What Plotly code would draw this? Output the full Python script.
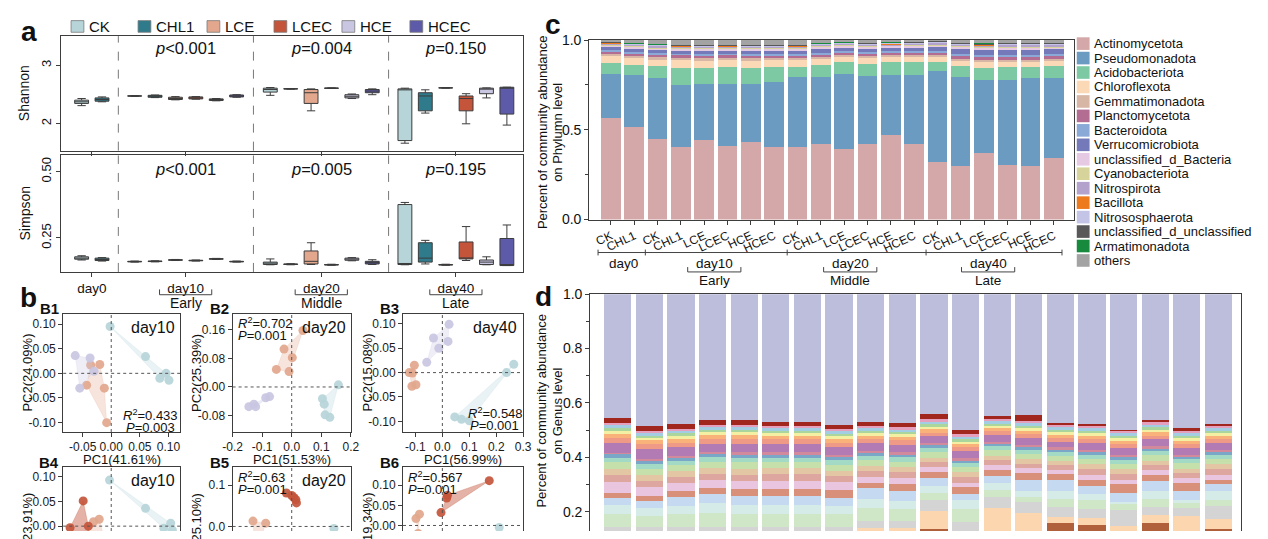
import plotly.graph_objects as go

W, H = 1268, 539
FONT = "Arial, Liberation Sans, sans-serif"

# ---------------- panel a : alpha diversity ----------------
TREATMENTS = ["CK", "CHL1", "LCE", "LCEC", "HCE", "HCEC"]
TREAT_COLORS = ["#b7d5d9", "#2f7b8c", "#e2a78d", "#c4553b", "#c9c6e2", "#5c5aa9"]
DAYS = ["day0", "day10", "day20", "day40"]
STAGES = ["Early", "Middle", "Late"]

# (lower whisker, q1, median, q3, upper whisker) per sampling day
SHANNON_CK = [(2.306, 2.344, 2.372, 2.400, 2.428), (2.466, 2.469, 2.472, 2.475, 2.478),
              (2.483, 2.539, 2.583, 2.606, 2.617), (1.661, 1.706, 2.583, 2.594, 2.606)]
SHANNON_CHL1 = [(2.372, 2.383, 2.411, 2.439, 2.456), (2.444, 2.450, 2.467, 2.483, 2.489),
                (2.590, 2.592, 2.594, 2.597, 2.599), (2.178, 2.217, 2.472, 2.528, 2.578)]
SHANNON_LCE = [(2.406, 2.411, 2.428, 2.450, 2.461), (2.217, 2.344, 2.528, 2.583, 2.594),
               (2.607, 2.609, 2.611, 2.613, 2.615)]
SHANNON_LCEC = [(2.417, 2.422, 2.439, 2.456, 2.461), (2.601, 2.603, 2.606, 2.609, 2.611),
                (1.994, 2.217, 2.428, 2.472, 2.511)]
SHANNON_HCE = [(2.389, 2.394, 2.411, 2.422, 2.428), (2.428, 2.439, 2.467, 2.494, 2.506),
               (2.439, 2.511, 2.594, 2.606, 2.611)]
SHANNON_HCEC = [(2.450, 2.456, 2.472, 2.489, 2.494), (2.494, 2.528, 2.556, 2.583, 2.594),
                (1.972, 2.161, 2.617, 2.622, 2.622)]

SIMPSON_CK = [(0.167, 0.170, 0.174, 0.179, 0.183), (0.159, 0.160, 0.161, 0.162, 0.163),
              (0.149, 0.150, 0.155, 0.159, 0.171), (0.149, 0.150, 0.150, 0.376, 0.384)]
SIMPSON_CHL1 = [(0.163, 0.165, 0.169, 0.174, 0.176), (0.160, 0.161, 0.162, 0.163, 0.164),
                (0.149, 0.150, 0.151, 0.152, 0.153), (0.152, 0.159, 0.174, 0.232, 0.241)]
SIMPSON_LCE = [(0.165, 0.166, 0.167, 0.168, 0.169), (0.150, 0.152, 0.162, 0.201, 0.232),
               (0.147, 0.148, 0.149, 0.150, 0.151)]
SIMPSON_LCEC = [(0.163, 0.164, 0.165, 0.166, 0.167), (0.147, 0.148, 0.149, 0.150, 0.151),
                (0.165, 0.171, 0.174, 0.235, 0.293)]
SIMPSON_HCE = [(0.169, 0.170, 0.171, 0.172, 0.173), (0.164, 0.166, 0.171, 0.174, 0.176),
               (0.149, 0.150, 0.159, 0.167, 0.179)]
SIMPSON_HCEC = [(0.159, 0.160, 0.161, 0.162, 0.163), (0.150, 0.152, 0.157, 0.162, 0.168),
                (0.146, 0.146, 0.149, 0.248, 0.299)]

SHANNON_P = ["<i>p</i>&lt;0.001", "<i>p</i>=0.004", "<i>p</i>=0.150"]
SIMPSON_P = ["<i>p</i>&lt;0.001", "<i>p</i>=0.005", "<i>p</i>=0.195"]

# ---------------- panel b : PCoA ----------------
B1 = {"CK": ([-0.002, 0.060, 0.085, 0.096, 0.101], [0.095, 0.034, -0.010, 0.000, -0.014]),
      "LCE": ([-0.036, -0.020, -0.043, -0.012, -0.008], [0.017, 0.018, -0.024, -0.030, -0.100]),
      "HCE": ([-0.063, -0.037, -0.030, -0.055], [0.036, 0.031, 0.004, -0.030])}
B2 = {"LCE": ([0.038, -0.026, 0.002, -0.052, -0.009], [0.158, 0.106, 0.082, 0.049, 0.043]),
      "HCE": ([-0.145, -0.128, -0.122, -0.088, -0.075], [-0.055, -0.048, -0.055, -0.030, -0.027]),
      "CK": ([0.158, 0.104, 0.110, 0.113, 0.129], [0.006, -0.033, -0.048, -0.078, -0.085])}
B3 = {"HCE": ([0.025, 0.021, -0.033, -0.013, -0.058], [0.099, 0.064, 0.071, 0.050, 0.021]),
      "LCE": ([-0.104, -0.123, -0.111, -0.113, -0.098], [0.015, 0.000, -0.001, -0.028, -0.025]),
      "CK": ([0.265, 0.238, 0.046, 0.071, 0.100], [0.017, 0.000, -0.091, -0.096, -0.099])}
B4 = {"CK": ([-0.003, 0.060, 0.092, 0.104, 0.107], [0.093, 0.036, -0.004, 0.006, -0.008]),
      "LCE": ([-0.021, -0.031, -0.050, -0.010], [0.014, 0.009, -0.025, -0.035]),
      "LCEC": ([-0.049, -0.072, -0.040, -0.055, -0.035], [0.051, -0.003, 0.000, -0.045, -0.060])}
B5 = {"LCE": ([-0.131, -0.088, -0.105, -0.125], [0.013, 0.008, -0.030, -0.050]),
      "LCEC": ([-0.018, 0.000, 0.007, 0.014, 0.016], [0.081, 0.075, 0.070, 0.065, 0.057]),
      "CK": ([0.143, 0.120, 0.130], [-0.005, -0.040, -0.060])}
B6 = {"LCE": ([-0.098, -0.085, -0.090], [0.017, 0.028, -0.020]),
      "LCEC": ([0.174, 0.019, 0.016, -0.005], [0.111, 0.075, 0.068, 0.032]),
      "CK": ([0.211, 0.220], [-0.005, -0.050])}

# ---------------- panel c : phylum composition ----------------
X_LABELS = ["CK", "CHL1"] + ["CK", "CHL1", "LCE", "LCEC", "HCE", "HCEC"] * 3
PHYLA = ["Actinomycetota", "Pseudomonadota", "Acidobacteriota", "Chloroflexota",
         "Gemmatimonadota", "Planctomycetota", "Bacteroidota", "Verrucomicrobiota",
         "unclassified_d_Bacteria", "Cyanobacteriota", "Nitrospirota", "Bacillota",
         "Nitrososphaerota", "unclassified_d_unclassified", "Armatimonadota", "others"]
PHYLA_COLORS = ["#d4a8a8", "#6b9bc0", "#7dc9a3", "#fbd9b6", "#d8b6a6", "#b46d92",
                "#8aa9d6", "#7479b9", "#e6c9e3", "#d6d49a", "#b3a3cc", "#ee7a1e",
                "#c3c4e6", "#585858", "#188a3e", "#a3a3a3"]
ACTINO = [0.563, 0.513, 0.446, 0.405, 0.441, 0.411, 0.432, 0.405, 0.405, 0.423,
          0.393, 0.418, 0.471, 0.418, 0.321, 0.298, 0.370, 0.304, 0.298, 0.343]
PSEUDO = [0.249, 0.292, 0.340, 0.345, 0.313, 0.343, 0.322, 0.361, 0.388, 0.370,
          0.418, 0.384, 0.333, 0.386, 0.509, 0.497, 0.405, 0.476, 0.488, 0.446]
ACIDO = [0.059, 0.057, 0.071, 0.096, 0.092, 0.098, 0.092, 0.086, 0.059, 0.068,
         0.064, 0.064, 0.071, 0.071, 0.045, 0.060, 0.071, 0.072, 0.066, 0.066]
CHLORO = [0.039, 0.036, 0.034, 0.040, 0.038, 0.036, 0.038, 0.035, 0.035, 0.034,
          0.030, 0.032, 0.030, 0.031, 0.028, 0.026, 0.030, 0.026, 0.026, 0.026]
GEMMA = [0.014, 0.014, 0.013, 0.014, 0.014, 0.013, 0.014, 0.013, 0.013, 0.012,
         0.012, 0.012, 0.012, 0.012, 0.012, 0.014, 0.014, 0.013, 0.013, 0.013]
PLANCTO = [0.012, 0.012, 0.013, 0.014, 0.014, 0.013, 0.014, 0.013, 0.012, 0.012,
           0.012, 0.012, 0.011, 0.012, 0.014, 0.016, 0.015, 0.016, 0.016, 0.015]
BACTERO = [0.009, 0.010, 0.010, 0.010, 0.010, 0.010, 0.010, 0.010, 0.010, 0.010,
           0.009, 0.009, 0.009, 0.009, 0.010, 0.012, 0.012, 0.012, 0.012, 0.012]
VERRUCO = [0.014, 0.016, 0.016, 0.017, 0.017, 0.016, 0.017, 0.016, 0.018, 0.020,
           0.018, 0.019, 0.018, 0.018, 0.020, 0.026, 0.028, 0.028, 0.028, 0.027]
UNCL_BACT = [0.009, 0.009, 0.009, 0.009, 0.009, 0.009, 0.009, 0.009, 0.010, 0.010,
             0.009, 0.010, 0.009, 0.009, 0.010, 0.010, 0.010, 0.010, 0.010, 0.010]
CYANO = [0.005, 0.005, 0.005, 0.005, 0.005, 0.005, 0.005, 0.005, 0.006, 0.005,
         0.005, 0.005, 0.005, 0.005, 0.006, 0.005, 0.005, 0.005, 0.005, 0.005]
NITROSPI = [0.006, 0.006, 0.007, 0.008, 0.008, 0.008, 0.008, 0.008, 0.007, 0.006,
            0.006, 0.006, 0.006, 0.006, 0.007, 0.008, 0.008, 0.008, 0.008, 0.008]
BACILL = [0.002] * 14 + [0.003] * 6
NITROSO = [0.004] * 20
UNCL_UNCL = [0.004] * 20
ARMATI = [0.002] * 20

# ---------------- panel d : genus composition (bottom -> top) ----------------
GENUS_COLORS = ["#d5d5d5", "#b0603b", "#fbd6ae", "#d4d4d4", "#cfe7c6", "#d4ebe7",
                "#c5daf0", "#d9907a", "#e9c5e0", "#dda69e", "#e3c6a4", "#c6e0ab",
                "#a3dac6", "#7aa6c7", "#d3899c", "#b27bb4", "#ef9a86", "#f8b27a",
                "#f4f0a3", "#aad69e", "#a3cde3", "#e5a0bd", "#a1261d", "#bdbddc"]
G_BASE = [0.100] * 20
G_BROWN = [0, 0, 0, 0, 0, 0, 0, 0, 0, 0, 0.037, 0, 0, 0, 0.059, 0.049, 0, 0.059, 0, 0.037]
G_PEACH = [0.005, 0.005, 0.005, 0.005, 0.005, 0.005, 0.005, 0.005, 0.040, 0.040,
           0.066, 0.020, 0.112, 0.094, 0.021, 0.027, 0.047, 0.029, 0.082, 0.035]
G_GRAY = [0.040, 0.040, 0.040, 0.040, 0.040, 0.040, 0.040, 0.040, 0.024, 0.025,
          0.038, 0.040, 0.041, 0.041, 0.037, 0.035, 0.059, 0.029, 0.030, 0.047]
G_PALEGREEN = [0.045, 0.040, 0.045, 0.050, 0.047, 0.047, 0.047, 0.045, 0.050, 0.045,
               0.028, 0.050, 0.028, 0.020, 0.030, 0.030, 0.021, 0.030, 0.020, 0.025]
G_PALECYAN = [0.033, 0.027, 0.030, 0.035, 0.033, 0.033, 0.033, 0.030, 0.033, 0.030,
              0.025, 0.032, 0.025, 0.021, 0.029, 0.023, 0.008, 0.029, 0.012, 0.030]
G_LIGHTBLUE = [0.027, 0.027, 0.033, 0.035, 0.034, 0.034, 0.034, 0.030, 0.039, 0.036,
               0.029, 0.023, 0.026, 0.042, 0.039, 0.030, 0.035, 0.038, 0.032, 0.026]
G_TERRA = [0.020, 0.020, 0.023, 0.023, 0.023, 0.023, 0.023, 0.029, 0.020, 0.026,
           0.022, 0.025, 0.021, 0.023, 0.023, 0.024, 0.030, 0.021, 0.030, 0.018]
G_LIGHTPINK = [0.039, 0.030, 0.028, 0.030, 0.030, 0.032, 0.032, 0.030, 0.022, 0.020,
               0.018, 0.016, 0.020, 0.018, 0.016, 0.018, 0.018, 0.018, 0.018, 0.018]
G_DUSTY = [0.026, 0.025, 0.024, 0.022, 0.024, 0.024, 0.024, 0.022, 0.020, 0.022,
           0.018, 0.020, 0.016, 0.018, 0.016, 0.020, 0.020, 0.018, 0.018, 0.020]
G_TAN = [0.023, 0.022, 0.022, 0.022, 0.022, 0.022, 0.022, 0.020, 0.020, 0.020,
         0.016, 0.018, 0.016, 0.016, 0.015, 0.018, 0.018, 0.016, 0.016, 0.018]
G_LIGHTGREEN = [0.024, 0.022, 0.022, 0.022, 0.024, 0.022, 0.022, 0.022, 0.022, 0.020,
                0.022, 0.020, 0.020, 0.020, 0.018, 0.020, 0.020, 0.020, 0.020, 0.020]
G_MINT = [0.017, 0.016, 0.016, 0.016, 0.016, 0.016, 0.016, 0.016, 0.015, 0.016,
          0.016, 0.014, 0.015, 0.015, 0.015, 0.016, 0.015, 0.015, 0.014, 0.015]
G_STEEL = [0.012, 0.012, 0.010, 0.012, 0.012, 0.012, 0.012, 0.012, 0.010, 0.010,
           0.010, 0.010, 0.010, 0.010, 0.010, 0.010, 0.010, 0.010, 0.010, 0.010]
G_ROSE = [0.006] + [0.008] * 19
G_MAUVE = [0.035, 0.035, 0.032, 0.030, 0.032, 0.030, 0.030, 0.028, 0.028, 0.028,
           0.024, 0.026, 0.024, 0.026, 0.022, 0.026, 0.026, 0.026, 0.024, 0.026]
G_SALMON = [0.018, 0.018, 0.016, 0.018, 0.018, 0.018, 0.018, 0.016, 0.016, 0.016,
            0.014, 0.014, 0.014, 0.014, 0.013, 0.014, 0.014, 0.014, 0.014, 0.014]
G_ORANGE = [0.015, 0.015, 0.014, 0.014, 0.014, 0.014, 0.014, 0.014, 0.012, 0.012,
            0.012, 0.012, 0.012, 0.012, 0.012, 0.012, 0.012, 0.012, 0.012, 0.012]
G_YELLOW = [0.012, 0.010, 0.010, 0.010, 0.010, 0.010, 0.010, 0.010, 0.010, 0.010,
            0.010, 0.010, 0.008, 0.010, 0.009, 0.010, 0.010, 0.010, 0.010, 0.010]
G_GREEN = [0.009, 0.008, 0.010] + [0.008] * 17
G_TEAL = [0.011, 0.010, 0.009, 0.010, 0.010, 0.010, 0.010, 0.010, 0.010, 0.010,
          0.010, 0.010, 0.008, 0.010, 0.010, 0.010, 0.010, 0.010, 0.010, 0.010]
G_PINK = [0.010, 0.008, 0.008, 0.008, 0.008, 0.008, 0.008, 0.008, 0.008, 0.008,
          0.010, 0.008, 0.010, 0.008, 0.008, 0.008, 0.008, 0.010, 0.008, 0.008]
G_DARKRED = [0.016, 0.017, 0.019, 0.018, 0.018, 0.014, 0.014, 0.014, 0.016, 0.016,
             0.018, 0.018, 0.010, 0.020, 0.008, 0.006, 0.005, 0.008, 0.010, 0.007]


def dx(x0, x1):
    return [x0 / W, x1 / W]


def dy(y0, y1):
    return [1 - y1 / H, 1 - y0 / H]


def ann(x, y, text, size=13, xanchor="center", yanchor="middle", angle=0, bold=False):
    return dict(x=x / W, y=1 - y / H, xref="paper", yref="paper", showarrow=False,
                text=f"<b>{text}</b>" if bold else text, xanchor=xanchor, yanchor=yanchor,
                textangle=angle, font=dict(size=size, family=FONT, color="#111"))


def pline(x0, y0, x1, y1, width=1, color="#444"):
    return dict(type="line", xref="paper", yref="paper", x0=x0 / W, x1=x1 / W,
                y0=1 - y0 / H, y1=1 - y1 / H, line=dict(color=color, width=width))


def rgba(hexc, a):
    h = hexc.lstrip("#")
    return f"rgba({int(h[0:2], 16)},{int(h[2:4], 16)},{int(h[4:6], 16)},{a})"


def hull(xs, ys):
    pts = sorted(set(zip(xs, ys)))
    if len(pts) < 3:
        return pts

    def cross(o, a, b):
        return (a[0] - o[0]) * (b[1] - o[1]) - (a[1] - o[1]) * (b[0] - o[0])

    lower, upper = [], []
    for p in pts:
        while len(lower) >= 2 and cross(lower[-2], lower[-1], p) <= 0:
            lower.pop()
        lower.append(p)
    for p in reversed(pts):
        while len(upper) >= 2 and cross(upper[-2], upper[-1], p) <= 0:
            upper.pop()
        upper.append(p)
    return lower[:-1] + upper[:-1]


def axis(**kw):
    base = dict(showline=True, linecolor="#3d3d3d", linewidth=1, mirror=True, showgrid=False,
                zeroline=False, ticks="outside", ticklen=4, tickwidth=1, tickcolor="#3d3d3d",
                tickfont=dict(size=12, family=FONT, color="#1a1a1a"))
    base.update(kw)
    return base


fig = go.Figure()
layout = {}
shapes = []
annotations = []
COLOR_OF = dict(zip(TREATMENTS, TREAT_COLORS))

# ---------- panel a ----------
GROUP_START = [1.0, 3.6, 10.25, 16.85]
day_centers = [GROUP_START[0] + 0.5] + [s + 2.5 for s in GROUP_START[1:]]
shannon = dict(zip(TREATMENTS, [SHANNON_CK, SHANNON_CHL1, SHANNON_LCE, SHANNON_LCEC, SHANNON_HCE, SHANNON_HCEC]))
simpson = dict(zip(TREATMENTS, [SIMPSON_CK, SIMPSON_CHL1, SIMPSON_LCE, SIMPSON_LCEC, SIMPSON_HCE, SIMPSON_HCEC]))

for k, t in enumerate(TREATMENTS):
    for stats, xa, ya in [(shannon[t], "x", "y"), (simpson[t], "x2", "y2")]:
        days = range(4) if len(stats) == 4 else range(1, 4)
        xs = [GROUP_START[d] + k for d in days]
        fig.add_trace(go.Box(
            x=xs, lowerfence=[s[0] for s in stats], q1=[s[1] for s in stats],
            median=[s[2] for s in stats], q3=[s[3] for s in stats],
            upperfence=[s[4] for s in stats], fillcolor=COLOR_OF[t],
            line=dict(color="#3c3c3c", width=1), width=0.68, whiskerwidth=0.6,
            boxpoints=False, xaxis=xa, yaxis=ya, showlegend=False, hoverinfo="skip"))

layout["xaxis"] = axis(domain=dx(52, 521), range=[0, 22.65], anchor="y",
                       tickvals=day_centers, showticklabels=False)
layout["yaxis"] = axis(domain=dy(29, 147), range=[1.533, 3.5], anchor="x", tickvals=[2, 3],
                       ticktext=["2", "3"], tickangle=-90, tickfont=dict(size=13, family=FONT))
layout["xaxis2"] = axis(domain=dx(52, 521), range=[0, 22.65], anchor="y2", tickvals=day_centers,
                        ticktext=DAYS, tickfont=dict(size=13.5, family=FONT, color="#111"))
layout["yaxis2"] = axis(domain=dy(152, 272), range=[0.122, 0.561], anchor="x2",
                        tickvals=[0.25, 0.5], ticktext=["0.25", "0.50"], tickangle=-90,
                        tickfont=dict(size=13, family=FONT))

for i in range(3):
    sep = (GROUP_START[i] + (1 if i == 0 else 5) + GROUP_START[i + 1]) / 2
    for ya in ["y", "y2"]:
        shapes.append(dict(type="line", xref="x", yref=f"{ya} domain", x0=sep, x1=sep, y0=0, y1=1,
                           line=dict(color="#555", width=0.8, dash="dash")))
    cx = 52 + day_centers[i + 1] * (521 - 52) / 22.65
    annotations.append(ann(cx, 41, SHANNON_P[i], 16.5))
    annotations.append(ann(cx, 166, SIMPSON_P[i], 16.5))
    shapes += [pline(cx - 26.5, 295.5, cx + 26.5, 295.5), pline(cx - 26.5, 295.5, cx - 26.5, 290),
               pline(cx + 26.5, 295.5, cx + 26.5, 290)]
    annotations.append(ann(cx, 304, STAGES[i], 14))

annotations.append(ann(15, 88, "Shannon", 14, angle=-90))
annotations.append(ann(15, 212, "Simpson", 14, angle=-90))
annotations.append(ann(19, 24, "a", 28, bold=True))

legend_x = [62, 130, 200, 268, 337, 406]
for t, c, lx in zip(TREATMENTS, TREAT_COLORS, legend_x):
    shapes.append(dict(type="rect", xref="paper", yref="paper", x0=lx / W, x1=(lx + 13) / W,
                       y0=1 - 25 / H, y1=1 - 13 / H, fillcolor=c, line=dict(color="#7a7a7a", width=0.8)))
    annotations.append(ann(lx + 16, 19, t, 15, xanchor="left"))

# ---------- panel b ----------
annotations.append(ann(19, 298, "b", 28, bold=True))
B_PANELS = [
    # number, data, x px, y px, x range, x ticks, x text, y range, y ticks, y text, label, pc1, pc2
    (3, B1, (54, 173), (315, 437), [-0.084, 0.121], [-0.05, 0, 0.05, 0.1], ["-0.05", "0.00", "0.05", "0.10"],
     [-0.119, 0.121], [-0.1, -0.05, 0, 0.05, 0.1], ["-0.10", "-0.05", "0.00", "0.05", "0.10"],
     "B1", "PC1(41.61%)", "PC2(24.09%)"),
    (4, B2, (226, 346), (315, 437), [-0.2, 0.2], [-0.2, -0.1, 0, 0.1, 0.2], ["-0.2", "-0.1", "0.0", "0.1", "0.2"],
     [-0.126, 0.205], [-0.08, 0, 0.08, 0.16], ["-0.08", "0.00", "0.08", "0.16"],
     "B2", "PC1(51.53%)", "PC2(25.39%)"),
    (5, B3, (399, 521), (315, 437), [-0.146, 0.3], [-0.1, 0, 0.1, 0.2, 0.3], ["-0.1", "0.0", "0.1", "0.2", "0.3"],
     [-0.122, 0.121], [-0.1, -0.05, 0, 0.05, 0.1], ["-0.10", "-0.05", "0.00", "0.05", "0.10"],
     "B3", "PC1(56.99%)", "PC2(15.08%)"),
    (6, B4, (54, 173), (473, 539), [-0.084, 0.121], [], [],
     [-0.0098, 0.1196], [0, 0.05, 0.1], ["0.00", "0.05", "0.10"], "B4", None, "PC2(23.91%)"),
    (7, B5, (226, 346), (473, 539), [-0.2, 0.2], [], [],
     [-0.011, 0.144], [0, 0.1], ["0.0", "0.1"], "B5", None, "PC2(25.10%)"),
    (8, B6, (399, 521), (473, 539), [-0.146, 0.3], [], [],
     [-0.0137, 0.145], [0, 0.05, 0.1], ["0.00", "0.05", "0.10"], "B6", None, "PC2(19.34%)"),
]
for n, data, xp, yp, xr, xt, xtt, yr, yt, ytt, lab, pc1, pc2 in B_PANELS:
    top_row = pc1 is not None
    if top_row:
        layout[f"xaxis{n}"] = axis(domain=dx(*xp), range=xr, anchor=f"y{n}", tickvals=xt, ticktext=xtt)
    else:
        layout[f"xaxis{n}"] = axis(domain=dx(*xp), range=xr, anchor=f"y{n}", side="top", mirror=False,
                                   ticks="", showticklabels=False)
    layout[f"yaxis{n}"] = axis(domain=dy(*yp), range=yr, anchor=f"x{n}", tickvals=yt, ticktext=ytt)
    shapes.append(dict(type="line", xref=f"x{n}", yref=f"y{n} domain", x0=0, x1=0, y0=0, y1=1,
                       line=dict(color="#555", width=1, dash="dot")))
    shapes.append(dict(type="line", xref=f"x{n} domain", yref=f"y{n}", x0=0, x1=1, y0=0, y1=0,
                       line=dict(color="#555", width=1, dash="dot")))
    for t, (xs, ys) in data.items():
        c = COLOR_OF[t]
        pts = hull(xs, ys)
        hx = [p[0] for p in pts] + [pts[0][0]]
        hy = [p[1] for p in pts] + [pts[0][1]]
        alpha = 0.45 if t == "LCEC" else 0.3
        fig.add_trace(go.Scatter(x=hx, y=hy, mode="lines", fill="toself", fillcolor=rgba(c, alpha),
                                 line=dict(width=0.6, color=rgba(c, alpha)), xaxis=f"x{n}", yaxis=f"y{n}",
                                 showlegend=False, hoverinfo="skip"))
        fig.add_trace(go.Scatter(x=xs, y=ys, mode="markers", marker=dict(size=9, color=c, opacity=0.92),
                                 xaxis=f"x{n}", yaxis=f"y{n}", showlegend=False, hoverinfo="skip"))
    annotations.append(ann(xp[0] - 2, yp[0] - 5, lab, 15, xanchor="right", bold=True))
    if top_row:
        annotations.append(ann((xp[0] + xp[1]) / 2, 465, pc1, 13))
        annotations.append(ann(xp[0] - 36, (yp[0] + yp[1]) / 2, pc2, 13, angle=-90))
    else:
        annotations.append(ann(xp[0] - 36, 540, pc2, 13, angle=-90))

annotations += [
    ann(170, 329, "day10", 16, xanchor="right"), ann(343, 329, "day20", 16, xanchor="right"),
    ann(517, 329, "day40", 16, xanchor="right"), ann(170, 487, "day10", 16, xanchor="right"),
    ann(343, 487, "day20", 16, xanchor="right"),
    ann(173, 419, "<i>R</i><sup>2</sup>=0.433", 13, xanchor="right"),
    ann(170, 432, "<i>P</i>=0.003", 13, xanchor="right"),
    ann(229, 325, "<i>R</i><sup>2</sup>=0.702", 13, xanchor="left"),
    ann(229, 338, "<i>P</i>=0.001", 13, xanchor="left"),
    ann(523, 417, "<i>R</i><sup>2</sup>=0.548", 13, xanchor="right"),
    ann(519, 430, "<i>P</i>=0.001", 13, xanchor="right"),
    ann(229, 483, "<i>R</i><sup>2</sup>=0.63", 13, xanchor="left"),
    ann(229, 496, "<i>P</i>=0.001", 13, xanchor="left"),
    ann(402, 483, "<i>R</i><sup>2</sup>=0.567", 13, xanchor="left"),
    ann(402, 496, "<i>P</i>=0.001", 13, xanchor="left"),
]

# ---------- panel c ----------
minor = [CHLORO, GEMMA, PLANCTO, BACTERO, VERRUCO, UNCL_BACT, CYANO, NITROSPI,
         BACILL, NITROSO, UNCL_UNCL, ARMATI]
phylum_series = [ACTINO, PSEUDO, ACIDO] + minor
others = [round(1 - sum(s[i] for s in phylum_series), 3) for i in range(20)]
phylum_series.append(others)
xs = list(range(20))
for name, vals, c in zip(PHYLA, phylum_series, PHYLA_COLORS):
    fig.add_trace(go.Bar(x=xs, y=vals, name=name, marker=dict(color=c, line=dict(width=0)), width=0.84,
                         xaxis="x9", yaxis="y9", showlegend=False, hoverinfo="skip"))
layout["xaxis9"] = axis(domain=dx(588, 1080), range=[-0.93, 19.85], anchor="y9", tickvals=xs,
                        ticktext=X_LABELS, tickangle=-25, tickfont=dict(size=12, family=FONT, color="#111"))
layout["yaxis9"] = axis(domain=dy(33, 218), range=[0, 1], anchor="x9", tickvals=[0, 0.5, 1],
                        ticktext=["0.0", "0.5", "1.0"], tickfont=dict(size=14, family=FONT, color="#111"),
                        minor=dict(tickvals=[0.25, 0.75], ticks="outside", ticklen=3, tickcolor="#3d3d3d"))
annotations += [ann(551, 17, "c", 28, bold=True),
                ann(540, 128, "Percent of community abundance", 13, angle=-90),
                ann(556, 128, "on Phylumn level", 13, angle=-90)]
# sampling-day grouping under the x axis
shapes.append(pline(597, 252, 1068, 252))
for gx in [597, 645, 789, 930, 1068]:
    shapes.append(pline(gx, 249, gx, 255))
for lab, gx in zip(DAYS, [623, 715, 853, 993]):
    annotations.append(ann(gx, 263, lab, 13.5))
for lab, gx in zip(STAGES, [715, 853, 993]):
    shapes += [pline(gx - 27, 272, gx + 27, 272), pline(gx - 27, 272, gx - 27, 267),
               pline(gx + 27, 272, gx + 27, 267)]
    annotations.append(ann(gx, 281, lab, 13.5))
for k, (name, c) in enumerate(zip(PHYLA, PHYLA_COLORS)):
    yc = 36.7 + 14.9 * k
    shapes.append(dict(type="rect", xref="paper", yref="paper", x0=1083 / W, x1=1096 / W,
                       y0=1 - (yc + 6.5) / H, y1=1 - (yc - 6.5) / H, fillcolor=c, line=dict(width=0)))
    annotations.append(ann(1098, yc, name, 13, xanchor="left"))

# ---------- panel d ----------
genus_series = [G_BASE, G_BROWN, G_PEACH, G_GRAY, G_PALEGREEN, G_PALECYAN, G_LIGHTBLUE, G_TERRA,
                G_LIGHTPINK, G_DUSTY, G_TAN, G_LIGHTGREEN, G_MINT, G_STEEL, G_ROSE, G_MAUVE,
                G_SALMON, G_ORANGE, G_YELLOW, G_GREEN, G_TEAL, G_PINK, G_DARKRED]
g_others = [round(1 - sum(s[i] for s in genus_series), 3) for i in range(20)]
genus_series.append(g_others)
for vals, c in zip(genus_series, GENUS_COLORS):
    fig.add_trace(go.Bar(x=xs, y=vals, marker=dict(color=c, line=dict(width=0)), width=0.86,
                         xaxis="x10", yaxis="y10", showlegend=False, hoverinfo="skip"))
layout["xaxis10"] = axis(domain=dx(589, 1250), range=[-0.87, 19.72], anchor="y10", side="top",
                         mirror=False, ticks="", showticklabels=False)
layout["yaxis10"] = axis(domain=dy(295, 539), range=[0.1286, 1.0], anchor="x10",
                         tickvals=[0.2, 0.4, 0.6, 0.8, 1.0], ticktext=["0.2", "0.4", "0.6", "0.8", "1.0"],
                         tickfont=dict(size=14, family=FONT, color="#111"),
                         minor=dict(tickvals=[0.3, 0.5, 0.7, 0.9], ticks="outside", ticklen=3,
                                    tickcolor="#3d3d3d"))
annotations += [ann(542, 297, "d", 28, bold=True),
                ann(540, 415, "Percent of community abundance", 13, angle=-90),
                ann(556, 415, "on Genus level", 13, angle=-90)]

fig.update_layout(**layout)
fig.update_layout(width=W, height=H, margin=dict(l=0, r=0, t=0, b=0), paper_bgcolor="white",
                  plot_bgcolor="white", barmode="stack", boxmode="overlay", bargap=0,
                  font=dict(family=FONT, color="#111"), showlegend=False,
                  shapes=shapes, annotations=annotations)
fig.write_html("out.html", config={"displayModeBar": False, "staticPlot": True},
               post_script="document.body.style.margin='0';")
